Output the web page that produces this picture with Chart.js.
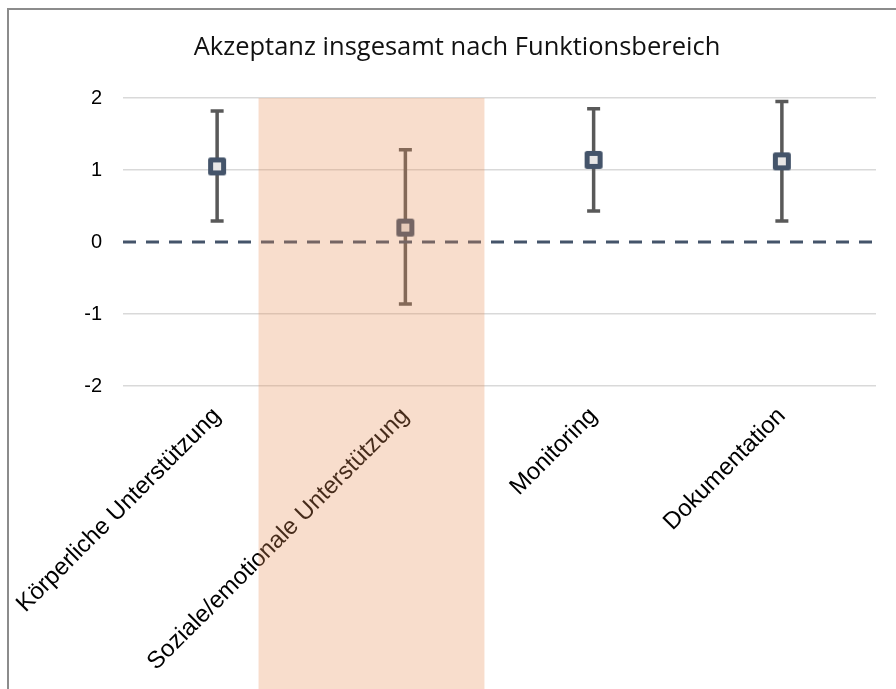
<!DOCTYPE html>
<html>
<head>
<meta charset="utf-8">
<script src="https://cdn.jsdelivr.net/npm/chart.js@4.4.1/dist/chart.umd.min.js"></script>
<style>
  html, body { margin: 0; padding: 0; background: #ffffff; overflow: hidden; }
  #frame { position: absolute; left: 7px; top: 8px; width: 1000px; height: 1000px;
           border-left: 2px solid #8c8c8c; border-top: 2px solid #8c8c8c; }
  #wrap { position: absolute; left: 0; top: 0; width: 896px; height: 689px; }
</style>
</head>
<body>
<div id="frame"></div>
<div id="wrap"><canvas id="chart"></canvas></div>
<script>
// Akzeptanz je Funktionsbereich: Mittelwert mit Streubereich
const categories = ['Körperliche Unterstützung', 'Soziale/emotionale Unterstützung', 'Monitoring', 'Dokumentation'];
const meanValues  = [1.05, 0.20, 1.14, 1.12];
const upperValues = [1.82, 1.28, 1.85, 1.95];
const lowerValues = [0.29, -0.86, 0.43, 0.29];
const yTicks = [-2, -1, 0, 1, 2];

// Square marker with light fill and dark rounded border
function makeMarker() {
  const c = document.createElement('canvas');
  c.width = 20; c.height = 20;
  const g = c.getContext('2d');
  g.lineJoin = 'round';
  g.fillStyle = '#E7E6E6';
  g.strokeStyle = '#44546A';
  g.lineWidth = 5;
  g.beginPath();
  g.rect(3.5, 3.5, 13, 13);
  g.fill();
  g.stroke();
  return c;
}

// Whiskers from lower to upper value, drawn below the markers
const errorBars = {
  id: 'errorBars',
  beforeDatasetsDraw(chart, args, opts) {
    const { ctx, scales: { x, y } } = chart;
    ctx.save();
    ctx.strokeStyle = opts.color;
    ctx.lineWidth = opts.width;
    ctx.lineCap = 'butt';
    categories.forEach((c, i) => {
      const px = x.getPixelForValue(i);
      const top = y.getPixelForValue(upperValues[i]);
      const bot = y.getPixelForValue(lowerValues[i]);
      ctx.beginPath();
      ctx.moveTo(px, top); ctx.lineTo(px, bot);
      ctx.moveTo(px - opts.cap, top); ctx.lineTo(px + opts.cap, top);
      ctx.moveTo(px - opts.cap, bot); ctx.lineTo(px + opts.cap, bot);
      ctx.stroke();
    });
    ctx.restore();
  }
};

// Dashed reference line at zero
const zeroLine = {
  id: 'zeroLine',
  beforeDatasetsDraw(chart, args, opts) {
    const { ctx, chartArea, scales: { y } } = chart;
    const py = y.getPixelForValue(0);
    ctx.save();
    ctx.strokeStyle = opts.color;
    ctx.lineWidth = opts.width;
    ctx.setLineDash(opts.dash);
    ctx.beginPath();
    ctx.moveTo(chartArea.left, py);
    ctx.lineTo(chartArea.right, py);
    ctx.stroke();
    ctx.restore();
  }
};

// Translucent band highlighting the social/emotional area
const highlightBand = {
  id: 'highlightBand',
  afterDraw(chart, args, opts) {
    const { ctx, scales: { x, y } } = chart;
    const x0 = x.getPixelForValue(opts.from);
    const x1 = x.getPixelForValue(opts.to);
    const top = y.getPixelForValue(y.max);
    ctx.save();
    ctx.fillStyle = opts.color;
    ctx.fillRect(x0, top, x1 - x0, chart.height - top);
    ctx.restore();
  }
};

new Chart(document.getElementById('chart'), {
  type: 'line',
  data: {
    labels: categories,
    datasets: [{
      data: meanValues,
      showLine: false,
      pointStyle: makeMarker(),
      pointRadius: 10,
      pointHoverRadius: 10
    }]
  },
  plugins: [errorBars, zeroLine, highlightBand],
  options: {
    responsive: true,
    maintainAspectRatio: false,
    animation: false,
    layout: { padding: { top: 10, left: 38, right: 20, bottom: 0 } },
    plugins: {
      legend: { display: false },
      tooltip: { enabled: false },
      title: {
        display: true,
        text: 'Akzeptanz insgesamt nach Funktionsbereich',
        color: '#111111',
        font: { family: 'Open Sans', size: 25.5, weight: 'normal', lineHeight: 1.2 },
        padding: { top: 22, bottom: 35.4 }
      },
      errorBars: { color: '#595959', width: 3.5, cap: 6.5 },
      zeroLine: { color: '#44546A', width: 3, dash: [13, 10] },
      highlightBand: { from: 0.22, to: 1.42, color: 'rgba(231,141,85,0.3)' }
    },
    scales: {
      x: {
        offset: true,
        grid: { display: false, drawTicks: false },
        border: { display: false },
        ticks: {
          autoSkip: false,
          maxRotation: 45,
          minRotation: 45,
          padding: 16,
          color: '#000000',
          font: { family: 'Liberation Sans', size: 24 }
        },
        afterFit(scale) {
          scale.height = 303;
          scale.paddingLeft = 0;
          scale.paddingRight = 0;
        }
      },
      y: {
        min: -2,
        max: 2,
        afterBuildTicks(scale) { scale.ticks = yTicks.map(v => ({ value: v })); },
        grid: {
          drawTicks: false,
          lineWidth: 1.5,
          color: ctx => (ctx.tick && ctx.tick.value === 0) ? 'rgba(0,0,0,0)' : '#D9D9D9'
        },
        border: { display: false },
        ticks: {
          padding: 21,
          color: '#000000',
          font: { family: 'Liberation Sans', size: 20 }
        },
        afterFit(scale) { scale.width = 85; }
      }
    }
  }
});
</script>
</body>
</html>
